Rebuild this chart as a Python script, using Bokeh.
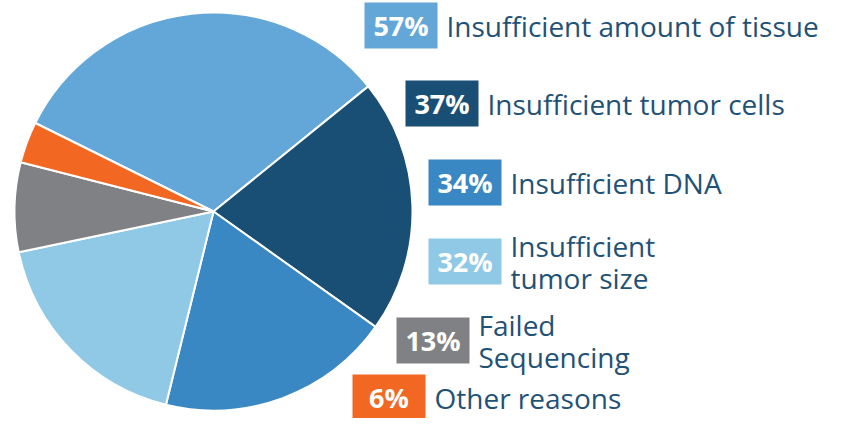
import math
from bokeh.plotting import figure
from bokeh.models import Range1d, ColumnDataSource
from bokeh.core.properties import value
from bokeh.embed import file_html
from bokeh.resources import INLINE

# ---- data ----
percents = [57, 37, 34, 32, 13, 6]
labels = ["Insufficient amount of tissue", "Insufficient tumor cells", "Insufficient DNA",
          "Insufficient\ntumor size", "Failed\nSequencing", "Other reasons"]
colors = ["#62a7d8", "#1a4f75", "#3987c3", "#90c9e6", "#808184", "#f26722"]

# ---- layout (reference pixel coords, y downward) ----
H = 434
cx, cy, R = 213, 211, 199
start_deg = 153.6
badge_left = [364, 405, 428, 428, 396, 352]
badge_top = [2, 80, 159, 238, 317, 374]
badge_w, badge_h = 73, 46
text_color = "#1f5276"
FONT = "Open Sans"

p = figure(width=829, height=418, output_backend="svg", toolbar_location=None,
           x_range=Range1d(0, 829), y_range=Range1d(H - 418, H),
           x_axis_location=None, y_axis_location=None, min_border=0)
p.grid.visible = False
p.outline_line_color = None
p.background_fill_color = "white"
p.border_fill_color = "white"

total = sum(percents)
starts, ends = [], []
a = math.radians(start_deg)
for v in percents:
    span = 2 * math.pi * v / total
    starts.append(a - span)
    ends.append(a)
    a -= span

src = ColumnDataSource(dict(start=starts, end=ends, color=colors))
p.wedge(x=cx, y=H - cy, radius=R, start_angle="start", end_angle="end",
        fill_color="color", line_color="white", line_width=2, source=src)

# badges
bx = [l + badge_w / 2 for l in badge_left]
by = [H - (t + badge_h / 2) for t in badge_top]
p.rect(x=bx, y=by, width=badge_w, height=badge_h, fill_color=colors, line_color=None)
p.text(x=bx, y=by, text=[f"{v}%" for v in percents], text_color="white",
       text_font=value(FONT), text_font_style="bold", text_font_size="27px",
       text_align="center", text_baseline="middle")

# labels
lx, ly, lt = [], [], []
for i, lab in enumerate(labels):
    lines = lab.split("\n")
    n = len(lines)
    for j, ln in enumerate(lines):
        lx.append(badge_left[i] + badge_w + 9)
        ly.append(by[i] + (n - 1) * 16 - j * 32)
        lt.append(ln)
p.text(x=lx, y=ly, text=lt, text_color=text_color, text_font=value(FONT),
       text_font_size="28px", text_align="left", text_baseline="middle")

open("out.html", "w").write(file_html(p, INLINE))
